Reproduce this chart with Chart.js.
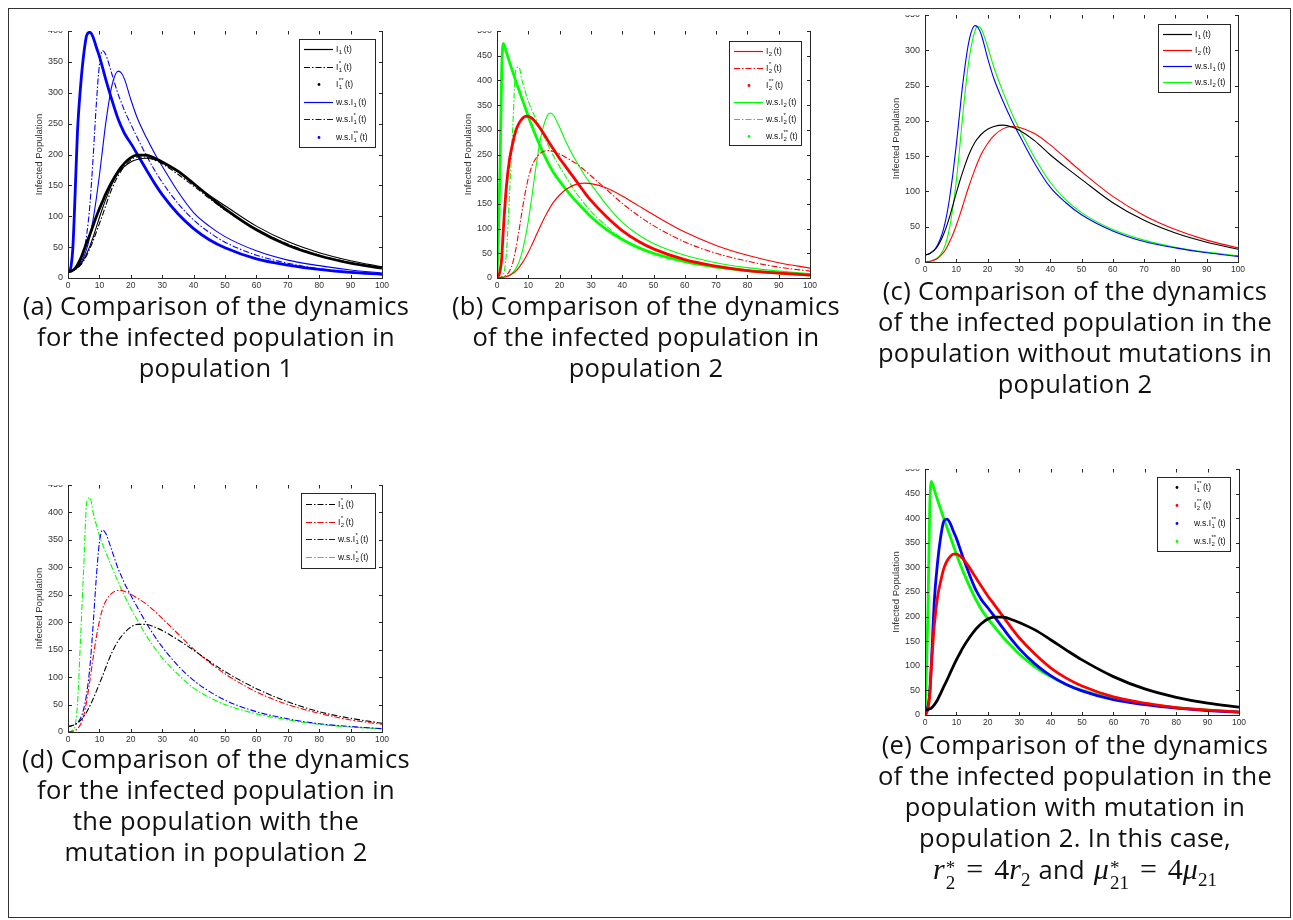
<!DOCTYPE html>
<html>
<head>
<meta charset="utf-8">
<script src="https://cdn.jsdelivr.net/npm/chart.js@4.4.1/dist/chart.umd.min.js"></script>
<style>
  html, body { margin: 0; padding: 0; background: #fff; }
  body { width: 1293px; height: 920px; position: relative; overflow: hidden; font-family: 'Open Sans', 'Noto Sans', sans-serif; }
  #frame { position: absolute; left: 8px; top: 8px; width: 1281px; height: 908px; border: 1px solid #333; }
  canvas { position: absolute; }
  .cap { position: absolute; width: 470px; text-align: center; font-size: 25.5px; line-height: 31px; color: #111; letter-spacing: 0.35px; }
  .math { font-family: 'Liberation Serif', 'DejaVu Serif', serif; font-size: 30px; letter-spacing: 0; }
  .math i { font-style: italic; }
  .eq { margin: 0 11px; }
  .ss { display: inline-block; vertical-align: -10px; font-size: 19px; line-height: 15px; text-align: left; margin-left: 1px; }
  .ss span { display: block; }
  .math sub { font-size: 19px; vertical-align: -7px; line-height: 0; }
  .and { margin: 0 9px 0 8px; }
</style>
</head>
<body>
<div id="frame"></div>

<canvas id="chartA" width="373" height="263" style="left:20px; top:31px"></canvas>
<canvas id="chartB" width="372" height="263" style="left:449px; top:31px"></canvas>
<canvas id="chartC" width="372" height="263" style="left:877px; top:15px"></canvas>
<canvas id="chartD" width="373" height="263" style="left:20px; top:485px"></canvas>
<canvas id="chartE" width="373" height="262" style="left:877px; top:469px"></canvas>

<div class="cap" style="left:-19px; top:290px">(a) Comparison of the dynamics<br>for the infected population in<br>population 1</div>
<div class="cap" style="left:411px; top:290px">(b) Comparison of the dynamics<br>of the infected population in<br>population 2</div>
<div class="cap" style="left:840px; top:275px">(c) Comparison of the dynamics<br>of the infected population in the<br>population without mutations in<br>population 2</div>
<div class="cap" style="left:-19px; top:743px">(d) Comparison of the dynamics<br>for the infected population in<br>the population with the<br>mutation in population 2</div>
<div class="cap" style="left:840px; top:729px">(e) Comparison of the dynamics<br>of the infected population in the<br>population with mutation in<br>population 2. In this case,<br><span class="math"><i>r</i><span class="ss"><span>*</span><span>2</span></span><span class="eq">=</span>4<i>r</i><sub>2</sub></span><span class="and">and</span><span class="math"><i>μ</i><span class="ss"><span>*</span><span>21</span></span><span class="eq">=</span>4<i>μ</i><sub>21</sub></span></div>

<script>
// time grid shared by every curve
const T = [0, 0.5, 1, 1.5, 2, 3, 4, 5, 6, 7, 8, 9, 10, 11, 12, 14, 16, 17, 18, 20, 22, 25, 28, 30, 35, 40, 45, 50, 60, 70, 80, 90, 100];

// population 1
const I1     = [10, 10.5, 11, 12, 13.5, 17, 22, 30, 40, 52, 66, 82, 98, 113, 127, 152, 170, 176, 181, 188, 192, 194, 191, 187, 172, 152, 134, 117, 84, 59, 41, 28, 18];
const I1s    = [10, 10.5, 11, 12, 13, 16, 21, 28, 37, 48, 60, 74, 88, 102, 117, 145, 166, 174, 181, 191, 196, 196, 190, 185, 168, 149, 129, 110, 79, 55, 37, 25, 16];
const I1ss   = [10, 10.5, 11, 12.5, 14, 21, 31, 44, 58, 71, 85, 99, 112, 124, 136, 156, 173, 180, 186, 195, 199, 199, 193, 188, 173, 153, 132, 112, 78, 53, 36, 24, 16];
const wsI1   = [10, 10.5, 11, 12, 13.5, 17, 24, 34, 48, 68, 95, 128, 166, 208, 250, 312, 335, 332, 322, 289, 260, 227, 198, 181, 140, 106, 84, 67, 44, 29, 20, 13, 8];
const wsI1s  = [10, 10.5, 11, 12, 13, 17, 25, 42, 72, 120, 195, 280, 345, 368, 362, 330, 297, 284, 271, 249, 228, 198, 171, 155, 121, 94, 74, 58, 37, 24, 15, 10, 6];
const wsI1ss = [10, 11, 20, 45, 100, 235, 310, 362, 394, 398, 390, 374, 359, 341, 322, 288, 257, 245, 234, 218, 201, 175, 150, 135, 104, 80, 62, 49, 31, 21, 14, 9, 6];

// population 2
const I2     = [0, 0.2, 0.5, 1, 1.5, 3, 5, 9, 14, 21, 30, 40, 52, 65, 79, 107, 132, 143, 153, 168, 179, 189, 192, 191, 182, 166, 147, 128, 93, 66, 46, 31, 20];
const I2s    = [0, 0.3, 0.7, 1.3, 2, 6, 14, 30, 58, 95, 135, 172, 202, 224, 238, 253, 258, 258, 256, 251, 244, 233, 218, 207, 179, 151, 127, 106, 73, 50, 34, 22, 14];
const I2ss   = [0, 4, 15, 40, 95, 185, 240, 272, 298, 313, 322, 327, 327, 324, 318, 301, 281, 271, 261, 242, 225, 199, 173, 157, 124, 96, 75, 59, 37, 24, 15, 10, 6];
const wsI2   = [0, 0.2, 0.5, 1, 1.5, 3, 6, 11, 19, 32, 52, 80, 115, 158, 205, 285, 328, 334, 330, 305, 276, 240, 208, 190, 148, 113, 88, 70, 46, 31, 21, 14, 9];
const wsI2s  = [0, 0.5, 1.5, 3, 6, 50, 170, 300, 420, 427, 400, 378, 358, 342, 328, 300, 273, 260, 248, 225, 205, 175, 150, 135, 105, 80, 63, 50, 33, 22, 14, 9, 6];
const wsI2ss = [0, 100, 230, 420, 475, 457, 437, 418, 399, 381, 363, 345, 327, 310, 294, 264, 237, 225, 214, 196, 180, 157, 137, 124, 98, 78, 62, 50, 33, 22, 15, 10, 6];

const SERIES = {
  I1:     { data: I1,     label: 'I_1(t)',        color: '#000000', kind: 'solid' },
  I1s:    { data: I1s,    label: 'I_1^*(t)',      color: '#000000', kind: 'dashdot' },
  I1ss:   { data: I1ss,   label: 'I_1^**(t)',     color: '#000000', kind: 'dots' },
  wsI1:   { data: wsI1,   label: 'w.s.I_1(t)',    color: '#0000ff', kind: 'solid' },
  wsI1s:  { data: wsI1s,  label: 'w.s.I_1^*(t)',  color: '#0000ff', kind: 'dashdot' },
  wsI1ss: { data: wsI1ss, label: 'w.s.I_1^**(t)', color: '#0000ff', kind: 'dots' },
  I2:     { data: I2,     label: 'I_2(t)',        color: '#ff0000', kind: 'solid' },
  I2s:    { data: I2s,    label: 'I_2^*(t)',      color: '#ff0000', kind: 'dashdot' },
  I2ss:   { data: I2ss,   label: 'I_2^**(t)',     color: '#ff0000', kind: 'dots' },
  wsI2:   { data: wsI2,   label: 'w.s.I_2(t)',    color: '#00ff00', kind: 'solid' },
  wsI2s:  { data: wsI2s,  label: 'w.s.I_2^*(t)',  color: '#00ff00', kind: 'dashdot' },
  wsI2ss: { data: wsI2ss, label: 'w.s.I_2^**(t)', color: '#00ff00', kind: 'dots' }
};

const AXIS_COLOR = '#262626';
const TICK_FONT = { family: "'Liberation Sans', Arial, sans-serif", size: 9 };

// MATLAB style box: left / bottom / right edges, ticks pointing inwards
const matlabAxes = {
  id: 'matlabAxes',
  afterDatasetsDraw(chart) {
    const { ctx, chartArea: a, scales: { x, y } } = chart;
    const len = 3.5;
    ctx.save();
    ctx.strokeStyle = AXIS_COLOR;
    ctx.lineWidth = 1;
    ctx.beginPath();
    const L = Math.round(a.left) + 0.5, R = Math.round(a.right) + 0.5, B = Math.round(a.bottom) + 0.5;
    ctx.moveTo(L, a.top); ctx.lineTo(L, B); ctx.lineTo(R, B); ctx.lineTo(R, a.top);
    x.ticks.forEach(t => {
      const px = Math.round(x.getPixelForValue(t.value)) + 0.5;
      ctx.moveTo(px, B); ctx.lineTo(px, B - len);
      ctx.moveTo(px, a.top); ctx.lineTo(px, a.top + len);
    });
    y.ticks.forEach(t => {
      const py = Math.round(y.getPixelForValue(t.value)) + 0.5;
      ctx.moveTo(L, py); ctx.lineTo(L + len, py);
      ctx.moveTo(R, py); ctx.lineTo(R - len, py);
    });
    ctx.stroke();
    ctx.restore();
  }
};

// label text like "w.s.I_1^**(t)" -> base, subscript, superscript, tail
function drawLabel(ctx, label, x, y) {
  const m = label.match(/^(.*?)_(\d+)(?:\^(\*+))?(.*)$/);
  const big = "8.5px 'Liberation Sans', Arial, sans-serif";
  const small = "6px 'Liberation Sans', Arial, sans-serif";
  ctx.fillStyle = '#111';
  ctx.textBaseline = 'middle';
  ctx.textAlign = 'left';
  ctx.font = big;
  ctx.fillText(m[1], x, y);
  x += ctx.measureText(m[1]).width;
  ctx.font = small;
  ctx.fillText(m[2], x + 0.5, y + 3);
  let w = ctx.measureText(m[2]).width;
  if (m[3]) {
    ctx.fillText(m[3], x + 0.5, y - 4);
    w = Math.max(w, ctx.measureText(m[3]).width);
  }
  x += w + 2;
  ctx.font = big;
  ctx.fillText(m[4], x, y);
}

const boxLegend = {
  id: 'boxLegend',
  afterDraw(chart, args, o) {
    const { ctx, chartArea: a } = chart;
    const sets = chart.data.datasets;
    const right = Math.round(a.right - o.right);
    const left = right - o.width;
    const top = Math.round(a.top + o.top);
    const h = Math.round(o.pad * 2 + (sets.length - 1) * o.rowH);
    ctx.save();
    ctx.fillStyle = '#fff';
    ctx.fillRect(left, top, o.width, h);
    ctx.strokeStyle = AXIS_COLOR;
    ctx.lineWidth = 1;
    ctx.strokeRect(left + 0.5, top + 0.5, o.width, h);
    sets.forEach((ds, i) => {
      const yy = Math.round(top + o.pad + i * o.rowH) + 0.5;
      if (ds.dots) {
        ctx.fillStyle = ds.borderColor;
        ctx.beginPath();
        ctx.arc(left + 20, yy, 1.4, 0, Math.PI * 2);
        ctx.fill();
      } else {
        ctx.strokeStyle = ds.borderColor;
        ctx.lineWidth = 1.2;
        ctx.setLineDash(ds.borderDash || []);
        ctx.beginPath();
        ctx.moveTo(left + 5, yy);
        ctx.lineTo(left + 34, yy);
        ctx.stroke();
        ctx.setLineDash([]);
      }
      drawLabel(ctx, ds.label, left + 37, yy);
    });
    ctx.restore();
  }
};

function makeDataset(key) {
  const s = SERIES[key];
  const ds = {
    label: s.label,
    data: T.map((t, i) => ({ x: t, y: s.data[i] })),
    borderColor: s.color,
    backgroundColor: s.color,
    pointRadius: 0,
    fill: false,
    cubicInterpolationMode: 'monotone'
  };
  if (s.kind === 'solid') { ds.borderWidth = 1.1; }
  if (s.kind === 'dashdot') { ds.borderWidth = 1.1; ds.borderDash = [6, 2, 1.5, 2]; }
  if (s.kind === 'dots') { ds.borderWidth = 2.8; ds.dots = true; }
  return ds;
}

function makeChart(id, keys, yMax, legend) {
  const ctx = document.getElementById(id).getContext('2d');
  return new Chart(ctx, {
    type: 'line',
    data: { datasets: keys.map(k => makeDataset(k)) },
    options: {
      responsive: false,
      animation: false,
      devicePixelRatio: 1,
      layout: { autoPadding: false, padding: { left: 0, top: 0, right: 11, bottom: 0 } },
      plugins: {
        legend: { display: false },
        tooltip: { enabled: false },
        boxLegend: legend
      },
      scales: {
        x: {
          type: 'linear',
          min: 0,
          max: 100,
          grid: { display: false, drawTicks: false },
          border: { display: false },
          ticks: { stepSize: 10, padding: 3, color: '#333', font: { ...TICK_FONT, size: 8.5 }, maxRotation: 0 },
          afterFit(s) { s.height = 16; s.paddingLeft = 0; s.paddingRight = 0; }
        },
        y: {
          type: 'linear',
          min: 0,
          max: yMax,
          grid: { display: false, drawTicks: false },
          border: { display: false },
          ticks: { stepSize: 50, padding: 5, color: '#333', font: TICK_FONT },
          title: {
            display: true,
            text: 'Infected Population',
            color: '#333',
            font: { family: "'Liberation Sans', Arial, sans-serif", size: 9.5 },
            padding: { top: 14, bottom: 0 }
          },
          afterFit(s) { s.width = 48; s.paddingTop = 0; s.paddingBottom = 0; }
        }
      }
    },
    plugins: [matlabAxes, boxLegend]
  });
}

makeChart('chartA', ['I1', 'I1s', 'I1ss', 'wsI1', 'wsI1s', 'wsI1ss'], 400,
  { right: 7, top: 7.5, width: 76, pad: 10, rowH: 17.5 });
makeChart('chartB', ['I2', 'I2s', 'I2ss', 'wsI2', 'wsI2s', 'wsI2ss'], 500,
  { right: 9, top: 10, width: 72, pad: 9.5, rowH: 17 });
makeChart('chartC', ['I1', 'I2', 'wsI1', 'wsI2'], 350,
  { right: 8, top: 9, width: 72, pad: 10, rowH: 16 });
makeChart('chartD', ['I1s', 'I2s', 'wsI1s', 'wsI2s'], 450,
  { right: 7, top: 8, width: 74, pad: 11, rowH: 17.7 });
makeChart('chartE', ['I1ss', 'I2ss', 'wsI1ss', 'wsI2ss'], 500,
  { right: 9, top: 8, width: 73, pad: 10, rowH: 18 });
</script>
</body>
</html>
